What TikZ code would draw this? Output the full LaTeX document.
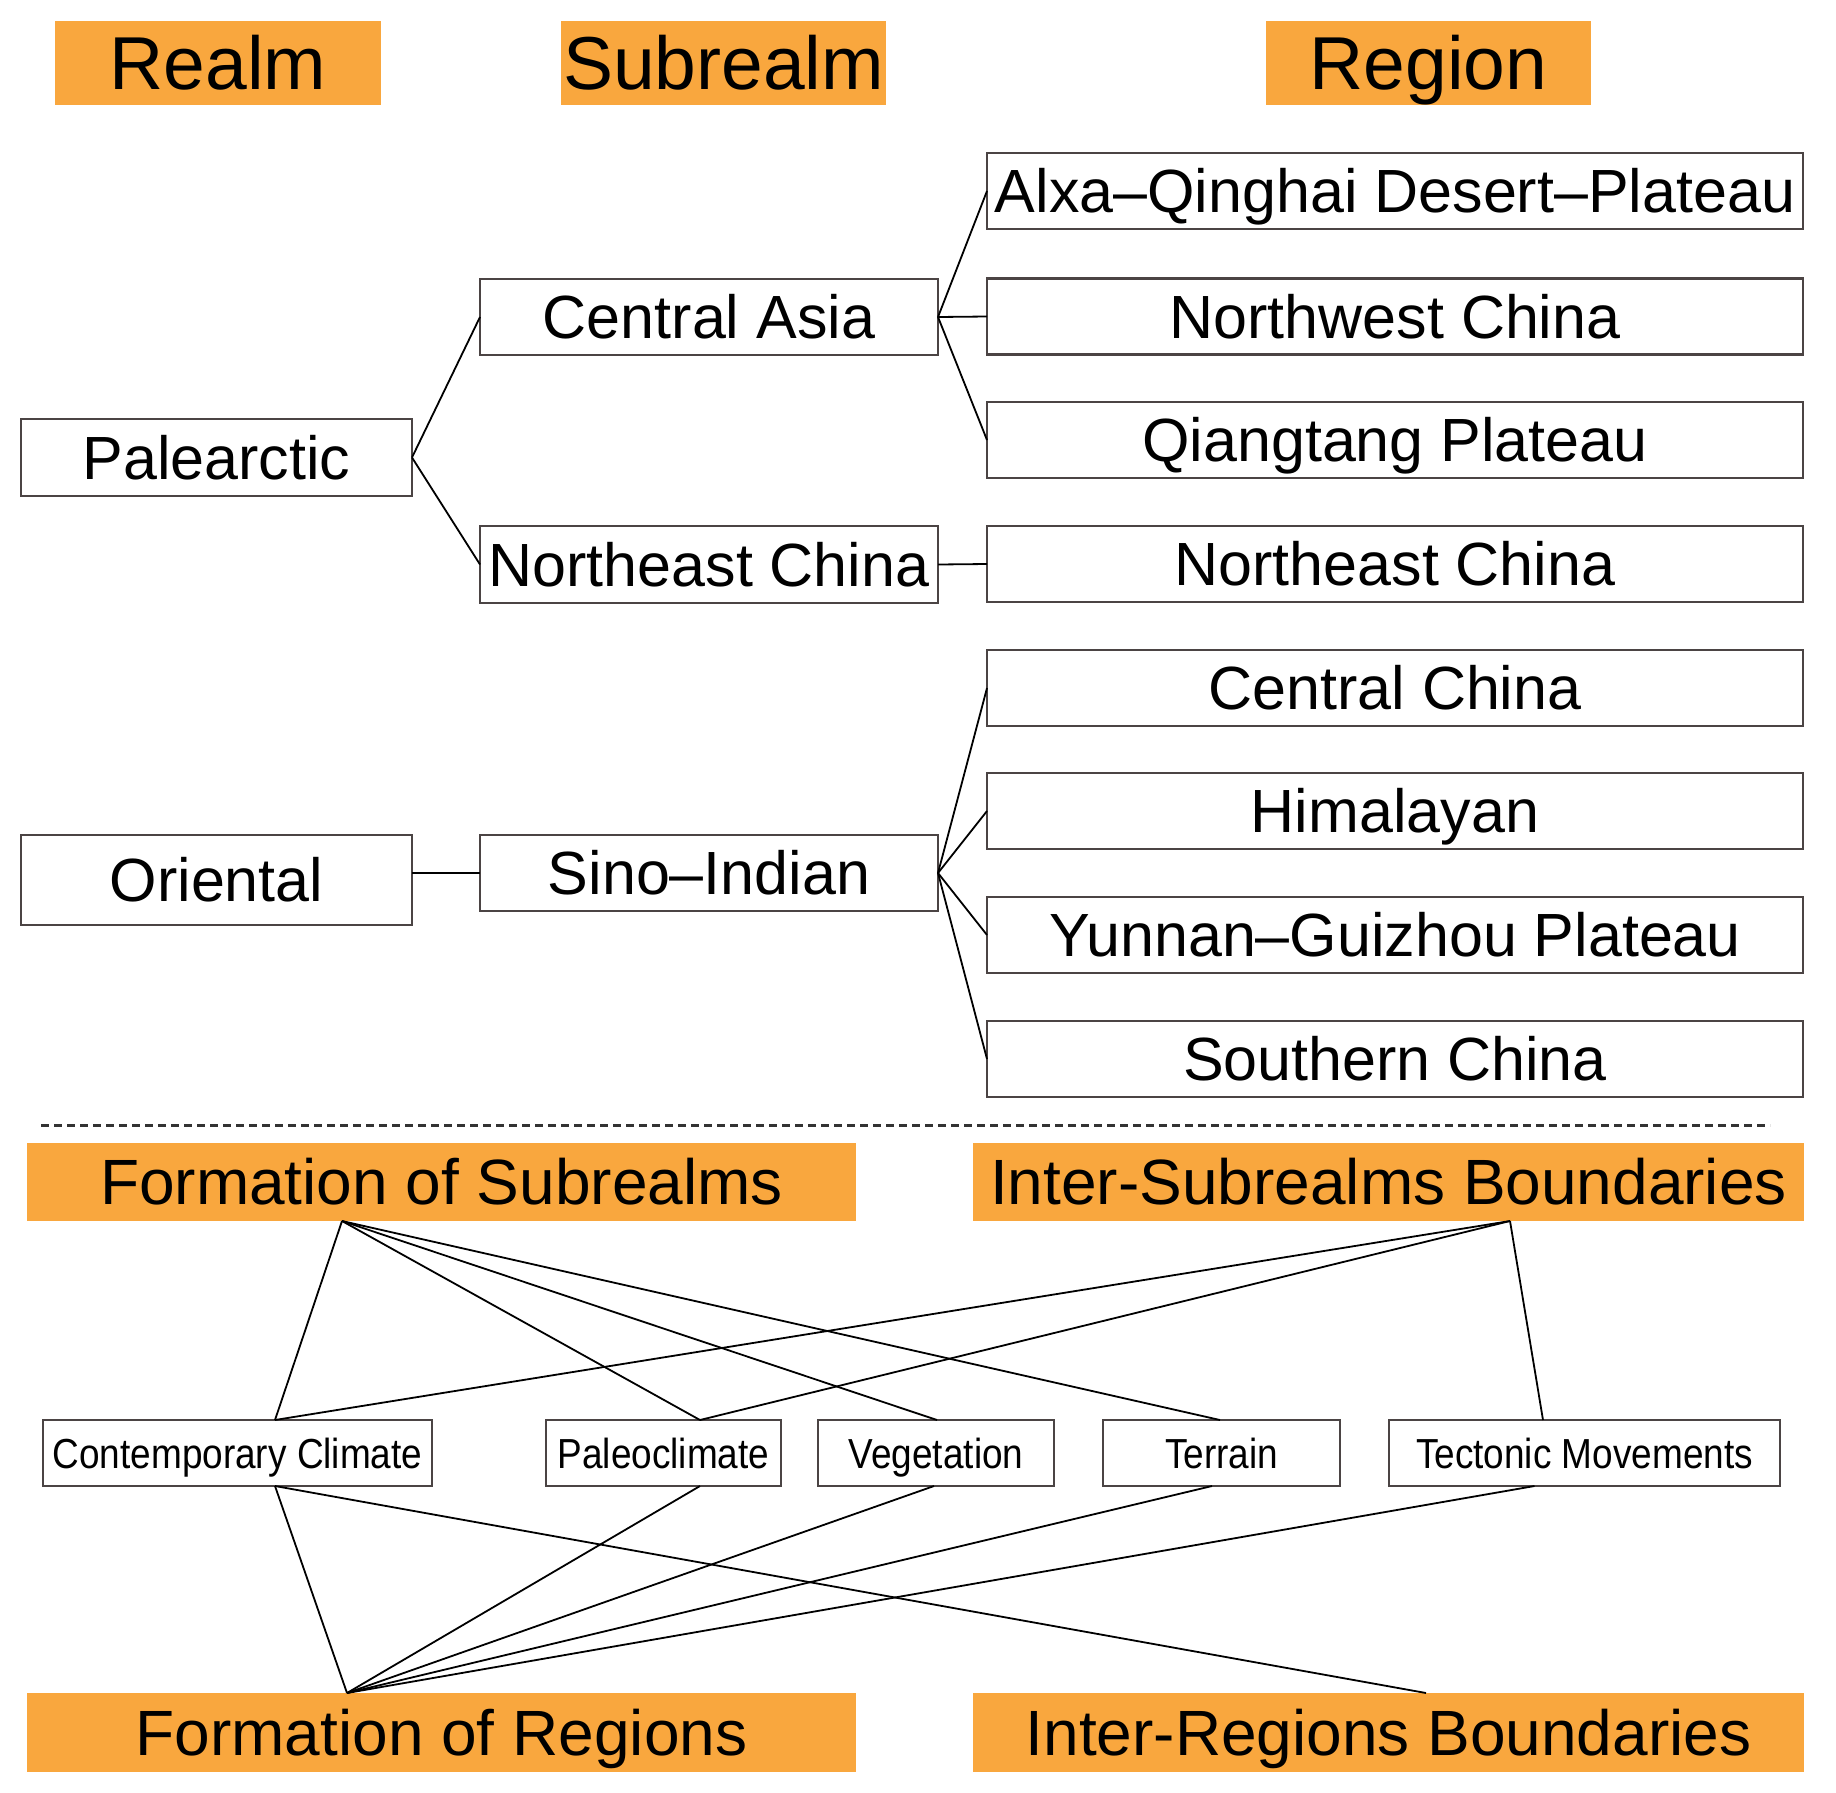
\documentclass[tikz,border=0pt]{standalone}
\usepackage{fontspec}
\setmainfont{Liberation Sans}
\definecolor{hdr}{RGB}{249,167,62}
\definecolor{bord}{RGB}{75,68,68}
\begin{document}
\begin{tikzpicture}[x=1pt,y=-1pt,
  wh/.style 2 args={minimum width=#1, minimum height=#2},
  base/.style={inner sep=0pt, outer sep=0pt, text depth=0pt},
  hdrbox/.style={base, fill=hdr, text height=53.7pt, font=\fontsize{75}{80}\selectfont},
  sumbox/.style={base, fill=hdr, text height=45.8pt, font=\fontsize{64}{70}\selectfont},
  lvlbox/.style={base, draw=bord, line width=2.5pt, fill=white, text height=43.7pt, font=\fontsize{61}{66}\selectfont},
  facbox/.style={base, draw=bord, line width=2.5pt, fill=white, text height=30pt, font=\fontsize{42}{46}\selectfont},
  link/.style={draw=black, line width=1.8pt},
  cut/.style={draw=gray!40!black, line width=3pt, dash pattern=on 8pt off 5pt}
]
\useasboundingbox (0,0) rectangle (1836,1793);

% column headers
\node[hdrbox, wh={326}{84}] (hRealm) at (218,63) {Realm};
\node[hdrbox, wh={325}{84}] (hSub) at (723.5,63) {Subrealm};
\node[hdrbox, wh={325}{84}] (hReg) at (1428.5,63) {Region};

% realms
\node[lvlbox, wh={391}{77}] (pal) at (216.5,457.5) {Palearctic};
\node[lvlbox, wh={391}{90}] (ori) at (216.5,880) {Oriental};

% subrealms
\node[lvlbox, wh={458}{76}] (ca) at (709,317) {Central Asia};
\node[lvlbox, wh={458}{77}] (nes) at (709,564.5) {Northeast China};
\node[lvlbox, wh={458}{76}] (si) at (709,873) {Sino--Indian};

% regions
\node[lvlbox, wh={816}{76}] (alx) at (1395,191) {Alxa--Qinghai Desert--Plateau};
\node[lvlbox, wh={816}{76}] (nw) at (1395,316.5) {Northwest China};
\node[lvlbox, wh={816}{76}] (qt) at (1395,440) {Qiangtang Plateau};
\node[lvlbox, wh={816}{76}] (ner) at (1395,564) {Northeast China};
\node[lvlbox, wh={816}{76}] (cc) at (1395,688) {Central China};
\node[lvlbox, wh={816}{76}] (him) at (1395,811) {Himalayan};
\node[lvlbox, wh={816}{76}] (yg) at (1395,935) {Yunnan--Guizhou Plateau};
\node[lvlbox, wh={816}{76}] (sc) at (1395,1059) {Southern China};

% hierarchy connectors
\draw[link] (pal.east) -- (ca.west);
\draw[link] (pal.east) -- (nes.west);
\draw[link] (ca.east) -- (alx.west);
\draw[link] (ca.east) -- (nw.west);
\draw[link] (ca.east) -- (qt.west);
\draw[link] (nes.east) -- (ner.west);
\draw[link] (ori.east |- si.west) -- (si.west);
\draw[link] (si.east) -- (cc.west);
\draw[link] (si.east) -- (him.west);
\draw[link] (si.east) -- (yg.west);
\draw[link] (si.east) -- (sc.west);

% separator
\coordinate (sepL) at (41,1125);
\coordinate (sepR) at (1770,1125);
\draw[cut] (sepL) -- (sepR);

% bottom part
\node[sumbox, wh={829}{78}] (fos) at (441.5,1182) {Formation of Subrealms};
\node[sumbox, wh={831}{78}] (isb) at (1388.5,1182) {Inter-Subrealms Boundaries};
\node[sumbox, wh={829}{79}] (forg) at (441.5,1732.5) {Formation of Regions};
\node[sumbox, wh={831}{79}] (irb) at (1388.5,1732.5) {Inter-Regions Boundaries};

\node[facbox, wh={389}{66}] (fcc) at (237.5,1453) {\scalebox{0.88}[1]{Contemporary Climate}};
\node[facbox, wh={235}{66}] (fpa) at (663.5,1453) {\scalebox{0.88}[1]{Paleoclimate}};
\node[facbox, wh={236}{66}] (fve) at (936,1453) {\scalebox{0.88}[1]{Vegetation}};
\node[facbox, wh={237}{66}] (fte) at (1221.5,1453) {\scalebox{0.88}[1]{Terrain}};
\node[facbox, wh={391}{66}] (ftm) at (1584.5,1453) {\scalebox{0.88}[1]{Tectonic Movements}};

% attachment points
\coordinate (fosB) at ([xshift=-99.5pt]fos.south);
\coordinate (isbB) at ([xshift=121.5pt]isb.south);
\coordinate (forT) at ([xshift=-94.5pt]forg.north);
\coordinate (irbT) at ([xshift=37.5pt]irb.north);
\coordinate (ccT) at ([xshift=37.5pt]fcc.north);
\coordinate (ccB) at ([xshift=37.5pt]fcc.south);
\coordinate (paT) at ([xshift=36.5pt]fpa.north);
\coordinate (paB) at ([xshift=36.5pt]fpa.south);
\coordinate (veT) at ([xshift=1pt]fve.north);
\coordinate (veB) at ([xshift=-2pt]fve.south);
\coordinate (teT) at ([xshift=-1.5pt]fte.north);
\coordinate (teB) at ([xshift=-9.5pt]fte.south);
\coordinate (tmT) at ([xshift=-41.5pt]ftm.north);
\coordinate (tmB) at ([xshift=-50pt]ftm.south);

\draw[link] (fosB) -- (ccT);
\draw[link] (fosB) -- (paT);
\draw[link] (fosB) -- (veT);
\draw[link] (fosB) -- (teT);
\draw[link] (isbB) -- (ccT);
\draw[link] (isbB) -- (paT);
\draw[link] (isbB) -- (tmT);
\draw[link] (ccB) -- (forT);
\draw[link] (paB) -- (forT);
\draw[link] (veB) -- (forT);
\draw[link] (teB) -- (forT);
\draw[link] (tmB) -- (forT);
\draw[link] (ccB) -- (irbT);
\end{tikzpicture}
\end{document}
